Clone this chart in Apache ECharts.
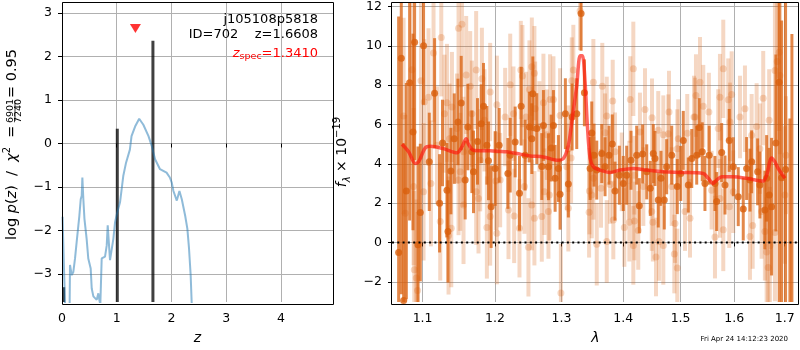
<!DOCTYPE html>
<html>
<head>
<meta charset="utf-8">
<script src="https://cdn.jsdelivr.net/npm/echarts@6/dist/echarts.min.js"></script>
<style>
  html, body { margin: 0; padding: 0; background: #fff; }
  #chart { width: 800px; height: 350px; }
</style>
</head>
<body>
<div id="chart"></div>
<script>
// ---- redshift probability panel ----
const zRange = [0, 4.95];
const pzRange = [-3.64, 3.25];
const zTicks = [0, 1, 2, 3, 4];
const pzTicks = [-3, -2, -1, 0, 1, 2, 3];

// log p(z) curve
const pzZ = [0.01, 0.024, 0.073, 0.134, 0.146, 0.177, 0.207, 0.238, 0.268, 0.317, 0.342, 0.36, 0.372, 0.39, 0.41,
  0.45, 0.48, 0.512, 0.524, 0.543, 0.573, 0.634, 0.664, 0.682, 0.70, 0.725, 0.786, 0.817, 0.835, 0.859, 0.877,
  0.908, 0.938, 0.969, 1.01, 1.06, 1.12, 1.17, 1.24, 1.27, 1.335, 1.41, 1.486, 1.58, 1.64, 1.70, 1.79, 1.91, 1.97,
  2.005, 2.035, 2.066, 2.097, 2.145, 2.188, 2.25, 2.29, 2.32, 2.35, 2.37, 2.40];
const pzLog = [-1.68, -1.69, -4.5, -4.5, -2.79, -3.02, -2.95, -2.64, -2.26, -1.66, -1.28, -1.2, -0.78, -1.28, -1.73,
  -2.19, -2.64, -2.64, -2.87, -3.33, -3.51, -3.59, -3.44, -3.59, -3.7, -2.64, -2.6, -2.34, -1.88, -2.34, -2.68,
  -2.72, -2.19, -1.81, -1.58, -1.35, -0.74, -0.44, -0.14, 0.17, 0.39, 0.57, 0.43, 0.17, -0.06, -0.36, -0.59, -0.67, -0.78,
  -0.9, -1.09, -1.05, -1.31, -1.09, -1.28, -1.66, -1.96, -2.41, -3.02, -3.7, -5.0];

const zBest = 1.6608;
const zSpec = 1.3410;
const zSpecMarkY = 2.64;
const objName = 'j105108p5818';
const objId = 702;

// fit peaks drawn as vertical spikes
const spikeZ = [0.03, 1.01, zBest];
const spikeTop = [-3.3, 0.34, 2.36];

// ---- spectrum panel ----
const lamRange = [1.0603, 1.7295];
const fluxRange = [-3.03, 12.23];
const lamTicks = [1.1, 1.2, 1.3, 1.4, 1.5, 1.6, 1.7];
const fluxTicks = [-2, 0, 2, 4, 6, 8, 10, 12];

// [lambda, flux, error] for the primary grism spectrum
const specMain = [
  [1.0688, -0.51, 12], [1.0722, 9.37, 12], [1.0752, -2.96, 8], [1.0787, 2.61, 5.5], [1.0830, 8.12, 7],
  [1.0874, 5.62, 5], [1.0895, 10.18, 6], [1.0939, -0.12, 5], [1.0970, 1.52, 3.5], [1.1013, 10.0, 3],
  [1.1089, 4.1, 2.5], [1.1160, 7.59, 2.8], [1.1227, 1.99, 2.5], [1.1267, 5.06, 2.2], [1.1327, 2.66, 2.4],
  [1.1341, 0.56, 2.6], [1.1381, 3.63, 2.2], [1.1427, 5.28, 2.3], [1.1478, 6.13, 2.2], [1.1523, 7.09, 2.4],
  [1.1578, 3.17, 2.0], [1.1616, 5.87, 2.2], [1.1672, 4.61, 2.1], [1.1694, 3.59, 2.1], [1.1751, 5.14, 2.2],
  [1.1803, 6.04, 2.0], [1.1836, 6.93, 2.2], [1.1884, 4.94, 2.0], [1.1907, 4.15, 2.0], [1.1945, 1.82, 2.1],
  [1.2003, 3.76, 1.9], [1.2061, 4.94, 1.9], [1.2188, 3.51, 1.8], [1.2222, 4.44, 1.9], [1.2295, 5.11, 1.8],
  [1.2359, 2.5, 1.9], [1.2384, 6.93, 2.0], [1.2443, 4.44, 1.8], [1.2508, 5.87, 1.8], [1.2544, 5.28, 1.8],
  [1.2559, 7.56, 1.9], [1.2619, 5.79, 1.8], [1.2695, 3.86, 1.7], [1.2720, 5.95, 1.8], [1.2797, 3.85, 1.7],
  [1.2838, 4.8, 1.7], [1.2874, 5.95, 1.8], [1.2900, 3.26, 1.7], [1.2951, 3.76, 1.7], [1.2977, 2.45, 1.8],
  [1.3060, 6.55, 1.8], [1.3107, 2.97, 1.7], [1.3166, 6.38, 1.7], [1.3240, 6.55, 1.8], [1.3309, 11.65, 1.9],
  [1.3362, 7.61, 1.7], [1.3454, 3.76, 1.6], [1.3481, 5.57, 1.6], [1.3518, 4.44, 1.6], [1.3562, 3.68, 1.5],
  [1.3644, 4.52, 1.5], [1.3698, 3.85, 1.5], [1.3764, 4.44, 1.5], [1.3818, 5.01, 1.5], [1.3863, 2.61, 1.5],
  [1.3935, 3.42, 1.5], [1.4002, 3.0, 1.4], [1.4059, 3.42, 1.5], [1.4132, 4.18, 1.5], [1.4229, 4.44, 1.5],
  [1.4274, 1.87, 1.4], [1.4332, 4.5, 1.5], [1.4402, 3.59, 1.4], [1.4464, 2.75, 1.4], [1.4516, 4.52, 1.5],
  [1.4545, 4.27, 1.4], [1.4603, 2.16, 1.4], [1.4651, 3.26, 1.4], [1.4709, 2.16, 1.5], [1.4751, 3.85, 1.4],
  [1.4841, 4.44, 1.5], [1.4941, 2.84, 1.4], [1.5003, 3.51, 1.4], [1.5049, 5.19, 1.5], [1.5140, 2.92, 1.4],
  [1.5203, 4.27, 1.5], [1.5294, 4.44, 1.5], [1.5341, 5.84, 1.5], [1.5396, 4.61, 1.5], [1.5446, 3.0, 1.4],
  [1.5525, 4.44, 1.5], [1.5633, 3.0, 1.4], [1.5665, 2.08, 1.5], [1.5760, 4.57, 1.5], [1.5823, 2.92, 1.5],
  [1.5904, 5.19, 1.6], [1.5981, 3.85, 1.5], [1.6077, 2.33, 1.5], [1.6174, 1.70, 1.6], [1.6240, 3.76, 1.6],
  [1.6305, 3.17, 1.6], [1.6338, 4.1, 1.6], [1.6456, 3.59, 1.7], [1.6501, 2.92, 1.7], [1.6600, 1.65, 2.0],
  [1.6635, 3.26, 2.2], [1.6686, 2.41, 2.4], [1.6734, 1.82, 3.5], [1.6821, 5.06, 4.5], [1.6888, 8.15, 12],
  [1.6937, 3.29, 8], [1.7018, 3.71, 12], [1.7107, -3.6, 9.9], [1.7148, -3.6, 14.2]
];

// [lambda, flux, error] for the secondary (faint) spectra
const specOther = [
  [1.0752, 6.43, 5], [1.0774, 1.48, 5], [1.0861, 8.79, 4.5], [1.0882, 2.84, 4], [1.0891, -1.39, 4],
  [1.0917, -1.81, 4], [1.0934, -2.45, 4], [1.0979, 8.23, 4], [1.1013, 2.58, 3.5], [1.1022, 7.14, 3.2],
  [1.1079, 7.39, 3.5], [1.1111, 3.0, 3.2], [1.1146, 9.64, 3.5], [1.1192, 4.94, 3], [1.1236, 1.06, 3],
  [1.1250, 10.43, 3], [1.1294, 6.55, 3], [1.1327, 7.1, 3], [1.1349, 0.35, 3], [1.1362, 5.28, 2.8],
  [1.1386, 0.72, 3], [1.1395, 6.89, 2.8], [1.1464, 5.79, 2.8], [1.1486, 10.89, 3], [1.1486, 3.17, 2.8],
  [1.1509, 3.59, 3], [1.1533, 11.1, 3.2], [1.1555, 4.61, 2.8], [1.1555, 1.9, 3], [1.1592, 8.52, 3],
  [1.1648, 7.95, 2.8], [1.1672, 6.55, 2.7], [1.1732, 8.77, 3], [1.1732, 2.58, 2.7], [1.1765, 2.24, 2.8],
  [1.1789, 4.18, 2.6], [1.1813, 8.32, 2.6], [1.1850, 6.21, 2.6], [1.1884, 0.76, 2.6], [1.1931, 7.65, 2.5],
  [1.1931, 1.32, 2.5], [1.2013, 3.13, 2.5], [1.2028, 7.0, 2.5], [1.2028, 0.47, 2.6], [1.2075, 3.17, 2.4],
  [1.2148, 6.38, 2.5], [1.2197, 1.65, 2.5], [1.2222, 8.02, 2.6], [1.2270, 6.55, 2.4], [1.2280, 1.35, 2.4],
  [1.2359, 0.72, 2.5], [1.2379, 8.77, 2.5], [1.2403, 8.46, 2.6], [1.2433, 2.84, 2.4], [1.2458, 6.38, 2.3],
  [1.2493, -0.25, 2.5], [1.2508, 7.78, 2.5], [1.2544, 8.94, 2.5], [1.2544, 1.9, 2.3], [1.2583, 8.61, 2.4],
  [1.2583, 1.23, 2.4], [1.2594, 6.8, 2.4], [1.2659, 5.9, 2.3], [1.2695, 1.32, 2.3], [1.2720, 7.1, 2.5],
  [1.2735, 2.58, 2.2], [1.2772, 5.48, 2.3], [1.2797, 1.57, 2.4], [1.2812, 2.41, 2.3], [1.2822, 7.27, 2.3],
  [1.2874, 7.27, 2.2], [1.2977, 6.46, 2.4], [1.2990, -2.57, 2.5], [1.3082, 3.85, 2.2], [1.3107, 4.77, 2.2],
  [1.3107, 1.74, 2.2], [1.3150, 4.3, 2.3], [1.3161, 8.23, 2.2], [1.3186, 8.77, 2.3], [1.3293, 11.78, 2.0],
  [1.3438, 1.53, 2.3], [1.3443, 2.61, 2.2], [1.3481, 2.41, 2.2], [1.3507, 8.15, 2.2], [1.3507, 3.26, 2.1],
  [1.3562, -0.09, 2.1], [1.3632, 2.75, 2.0], [1.3653, 7.95, 2.2], [1.3698, 5.58, 2.0], [1.3726, 6.43, 2.0],
  [1.3726, 0.05, 2.1], [1.3781, 2.95, 2.0], [1.3825, 7.19, 2.1], [1.3835, 1.14, 2.0], [1.3863, 4.61, 2.0],
  [1.3976, 3.59, 2.0], [1.4019, 0.76, 2.0], [1.4104, 3.17, 2.0], [1.4104, 1.03, 2.0], [1.4120, 7.27, 2.2],
  [1.4172, 8.83, 2.4], [1.4172, -0.15, 2.0], [1.4189, 3.42, 2.0], [1.4189, 1.09, 2.0], [1.4256, 0.61, 2.0],
  [1.4285, 5.62, 2.0], [1.4343, 2.84, 2.0], [1.4372, 6.76, 2.1], [1.4489, 1.57, 2.0], [1.4494, 6.34, 2.0],
  [1.4508, 1.03, 2.0], [1.4563, -0.74, 2.0], [1.4603, 5.7, 2.0], [1.4615, 0.05, 2.0], [1.4692, 5.48, 2.0],
  [1.4692, -0.15, 2.0], [1.4780, 5.53, 2.0], [1.4793, 6.63, 2.1], [1.4841, 2.84, 2.0], [1.4888, -0.59, 2.0],
  [1.4900, 0.96, 2.0], [1.4941, 4.77, 2.0], [1.4941, -1.3, 2.0], [1.4959, 5.28, 2.0], [1.5080, 1.57, 2.0],
  [1.5121, 5.55, 2.0], [1.5171, 1.23, 2.0], [1.5244, 6.38, 2.1], [1.5262, 6.38, 2.0], [1.5280, 7.47, 2.1],
  [1.5354, 8.15, 2.3], [1.5415, 6.93, 2.1], [1.5519, 6.63, 2.0], [1.5570, 2.66, 2.0], [1.5633, 0.27, 2.1],
  [1.5695, 5.79, 2.0], [1.5727, 7.39, 2.2], [1.5727, 2.24, 2.0], [1.5790, 8.83, 2.5], [1.5790, 0.64, 2.1],
  [1.5885, 7.26, 2.1], [1.5904, 1.82, 2.1], [1.5918, 6.13, 2.0], [1.5950, 7.52, 2.2], [1.5981, 2.58, 2.1],
  [1.6110, 6.38, 2.1], [1.6207, 6.8, 2.2], [1.6305, 0.3, 2.2], [1.6338, 5.45, 2.1], [1.6358, 0.86, 2.2],
  [1.6436, 5.9, 2.2], [1.6501, 4.77, 2.3], [1.6535, 1.57, 2.4], [1.6567, 7.34, 2.4], [1.6600, 0.56, 2.5],
  [1.6635, -0.49, 2.8], [1.6666, -1.27, 3], [1.6686, 6.21, 2.6], [1.6700, -0.17, 3], [1.6802, 0.51, 3.5],
  [1.6802, 8.74, 3.5], [1.6848, 9.2, 4], [1.6888, 9.67, 4], [1.6903, 8.49, 4], [1.7005, 2.41, 3.5],
  [1.7025, 4.44, 3]
];

// best-fit template spectrum
const modelLam = [1.0731, 1.0817, 1.0904, 1.0947, 1.1036, 1.1102, 1.1281, 1.1464, 1.1533, 1.1592, 1.1625, 1.1694,
  1.1931, 1.2173, 1.2320, 1.2518, 1.2720, 1.2926, 1.3029, 1.3107, 1.3161, 1.3240, 1.3293, 1.3330, 1.3373, 1.3410,
  1.3454, 1.3507, 1.3616, 1.3781, 1.3947, 1.4172, 1.4402, 1.4692, 1.4990, 1.5415, 1.5508, 1.5601, 1.5665, 1.5760,
  1.5981, 1.6240, 1.6567, 1.6635, 1.6735, 1.6802, 1.6868, 1.7005];
const modelFlux = [4.99, 4.61, 4.02, 4.1, 4.81, 4.89, 4.77, 4.56, 4.86, 5.28, 4.99, 4.69,
  4.66, 4.61, 4.52, 4.4, 4.35, 4.18, 4.27, 4.94, 6.13, 7.98, 9.5, 9.5, 8.15, 5.95,
  4.27, 3.85, 3.68, 3.56, 3.68, 3.76, 3.68, 3.59, 3.56, 3.51, 3.26, 3.0, 3.17, 3.34,
  3.34, 3.26, 3.12, 3.42, 4.3, 4.1, 3.76, 3.26];

const stamp = 'Fri Apr 24 14:12:23 2020';

// ---- drawing ----
const FONT = 'DejaVu Sans';
const TICK_FS = 12.5;
const GRID_COLOR = '#b0b0b0';
const ORANGE = '217,96,14';
const L = [62, 2, 271, 302];   // left panel box
const R = [392, 2, 407, 302];  // right panel box

const fmtNum = v => (v < 0 ? '\u2212' + Math.abs(v) : String(v));

function errorBarSeries(rows, color, width, xIdx) {
  return {
    type: 'custom', xAxisIndex: xIdx, yAxisIndex: xIdx, clip: true, silent: true,
    data: rows.map(r => [Math.log(r[0]), r[1], r[2]]),
    encode: { x: 0, y: 1 },
    renderItem: (params, api) => {
      const x = api.value(0), y = api.value(1), e = api.value(2);
      const a = api.coord([x, y - e]);
      const b = api.coord([x, y + e]);
      return { type: 'line', shape: { x1: a[0], y1: a[1], x2: b[0], y2: b[1] },
        style: { stroke: color, lineWidth: width } };
    }
  };
}

function axisCommon(ticks, fmt, margin) {
  return {
    axisLine: { show: false },
    axisTick: { show: true, length: 4, lineStyle: { color: '#000', width: 1 }, customValues: ticks },
    axisLabel: { customValues: ticks, color: '#000', fontSize: TICK_FS, fontFamily: FONT, margin: margin, formatter: fmt },
    splitLine: { show: true, lineStyle: { color: GRID_COLOR, width: 1 } }
  };
}

const lnLamTicks = lamTicks.map(Math.log);

const option = {
  animation: false,
  textStyle: { fontFamily: FONT },
  grid: [
    { left: L[0], top: L[1], width: L[2], height: L[3] },
    { left: R[0], top: R[1], width: R[2], height: R[3] }
  ],
  xAxis: [
    Object.assign({ type: 'value', gridIndex: 0, min: zRange[0], max: zRange[1],
      name: 'z', nameLocation: 'middle', nameGap: 29,
      nameTextStyle: { fontStyle: 'italic', fontSize: 14, color: '#000', fontFamily: FONT } },
      axisCommon(zTicks, v => fmtNum(v), 10)),
    Object.assign({ type: 'value', gridIndex: 1, min: Math.log(lamRange[0]), max: Math.log(lamRange[1]),
      name: 'λ', nameLocation: 'middle', nameGap: 29,
      nameTextStyle: { fontStyle: 'italic', fontSize: 14, color: '#000', fontFamily: FONT } },
      axisCommon(lnLamTicks, v => Math.exp(v).toFixed(1), 10))
  ],
  yAxis: [
    Object.assign({ type: 'value', gridIndex: 0, min: pzRange[0], max: pzRange[1] },
      axisCommon(pzTicks, v => fmtNum(v), 10)),
    Object.assign({ type: 'value', gridIndex: 1, min: fluxRange[0], max: fluxRange[1],
      name: '{i|f}{sub|λ}{n| × 10}{sup|\u221219}', nameLocation: 'middle', nameGap: 36, nameRotate: 90,
      nameTextStyle: { color: '#000', fontFamily: FONT, rich: {
        i: { fontSize: 14, fontStyle: 'italic', fontFamily: FONT, color: '#000', lineHeight: 20 },
        sub: { fontSize: 10, fontStyle: 'italic', fontFamily: FONT, color: '#000', verticalAlign: 'bottom', lineHeight: 14 },
        n: { fontSize: 14, fontFamily: FONT, color: '#000', lineHeight: 20 },
        sup: { fontSize: 10, fontFamily: FONT, color: '#000', verticalAlign: 'top', lineHeight: 12 }
      } } },
      axisCommon(fluxTicks, v => fmtNum(v), 10))
  ],
  series: [
    {
      type: 'line', xAxisIndex: 0, yAxisIndex: 0, showSymbol: false, silent: true, clip: true,
      data: pzZ.map((z, i) => [z, pzLog[i]]),
      lineStyle: { color: '#1f77b4', opacity: 0.5, width: 2 }
    },
    {
      type: 'custom', xAxisIndex: 0, yAxisIndex: 0, clip: true, silent: true,
      data: spikeZ.map((z, i) => [z, spikeTop[i]]),
      encode: { x: 0, y: 1 },
      renderItem: (params, api) => {
        const top = api.coord([api.value(0), api.value(1)]);
        const bot = api.coord([api.value(0), pzRange[0]]);
        return { type: 'line', shape: { x1: top[0], y1: top[1], x2: bot[0], y2: bot[1] },
          style: { stroke: 'rgba(0,0,0,0.75)', lineWidth: 3 } };
      }
    },
    {
      type: 'scatter', xAxisIndex: 0, yAxisIndex: 0, silent: true,
      data: [[zSpec, zSpecMarkY]], symbol: 'triangle', symbolRotate: 180, symbolSize: [11, 9],
      itemStyle: { color: '#ff0000' }
    },
    errorBarSeries(specOther, 'rgba(' + ORANGE + ',0.25)', 4, 1),
    {
      type: 'scatter', xAxisIndex: 1, yAxisIndex: 1, silent: true, symbolSize: 7,
      data: specOther.map(r => [Math.log(r[0]), r[1]]),
      itemStyle: { color: 'rgba(' + ORANGE + ',0.3)' }
    },
    errorBarSeries(specMain, 'rgba(' + ORANGE + ',0.75)', 3, 1),
    {
      type: 'scatter', xAxisIndex: 1, yAxisIndex: 1, silent: true, symbolSize: 7,
      data: specMain.map(r => [Math.log(r[0]), r[1]]),
      itemStyle: { color: 'rgb(' + ORANGE + ')' }
    },
    {
      type: 'line', xAxisIndex: 1, yAxisIndex: 1, showSymbol: false, silent: true, smooth: 0.3,
      data: modelLam.map((l, i) => [Math.log(l), modelFlux[i]]),
      lineStyle: { color: 'rgba(255,20,10,0.65)', width: 3.5 }
    },
    {
      type: 'line', xAxisIndex: 1, yAxisIndex: 1, showSymbol: false, silent: true,
      data: [[Math.log(lamRange[0]), 0], [Math.log(lamRange[1]), 0]],
      lineStyle: { color: '#000', width: 2, type: [2, 3.3] }
    }
  ],
  graphic: [
    // panel frames
    { type: 'rect', z: 100, silent: true, shape: { x: L[0] + 0.5, y: L[1] + 0.5, width: L[2], height: L[3] },
      style: { fill: 'none', stroke: '#000', lineWidth: 1 } },
    { type: 'rect', z: 100, silent: true, shape: { x: R[0] - 0.5, y: R[1] + 0.5, width: R[2], height: R[3] },
      style: { fill: 'none', stroke: '#000', lineWidth: 1 } },
    // object annotations
    { type: 'text', z: 100, x: 318, y: 20, style: { text: objName, font: '13px ' + FONT, fill: '#000',
      align: 'right', textAlign: 'right', verticalAlign: 'middle', textVerticalAlign: 'middle' } },
    { type: 'text', z: 100, x: 318, y: 35, style: { text: 'ID=' + objId + '    z=' + zBest.toFixed(4),
      font: '13px ' + FONT, fill: '#000', align: 'right', textAlign: 'right', verticalAlign: 'middle', textVerticalAlign: 'middle' } },
    { type: 'text', z: 100, x: 318, y: 54, style: {
      text: '{i|z}{sub|spec}{n|=' + zSpec.toFixed(4) + '}',
      align: 'right', textAlign: 'right', verticalAlign: 'middle', textVerticalAlign: 'middle',
      rich: {
        i: { fontSize: 13, fontStyle: 'italic', fontFamily: FONT, fill: '#ff0000', color: '#ff0000', lineHeight: 16 },
        sub: { fontSize: 9.5, fontFamily: FONT, fill: '#ff0000', color: '#ff0000', verticalAlign: 'bottom', lineHeight: 12 },
        n: { fontSize: 13, fontFamily: FONT, fill: '#ff0000', color: '#ff0000', lineHeight: 16 }
      } } },
    // left axis title
    { type: 'text', z: 100, x: 12, y: 240, rotation: Math.PI / 2, style: {
      text: '{n|log }{i|p}{n|(}{i|z}{n|)  /  }{i|χ}{sup|2}{n|  =}',
      align: 'left', textAlign: 'left', verticalAlign: 'middle', textVerticalAlign: 'middle',
      rich: {
        n: { fontSize: 14.5, fontFamily: FONT, fill: '#000', color: '#000', lineHeight: 20 },
        i: { fontSize: 14.5, fontStyle: 'italic', fontFamily: FONT, fill: '#000', color: '#000', lineHeight: 20 },
        sup: { fontSize: 10, fontFamily: FONT, fill: '#000', color: '#000', verticalAlign: 'top', lineHeight: 12 }
      } } },
    { type: 'text', z: 100, x: 11, y: 111, rotation: Math.PI / 2, style: { text: '6901', font: '9.5px ' + FONT,
      fill: '#000', align: 'center', textAlign: 'center', verticalAlign: 'middle', textVerticalAlign: 'middle' } },
    { type: 'text', z: 100, x: 19, y: 111, rotation: Math.PI / 2, style: { text: '7240', font: '9.5px ' + FONT,
      fill: '#000', align: 'center', textAlign: 'center', verticalAlign: 'middle', textVerticalAlign: 'middle' } },
    { type: 'line', z: 100, silent: true, shape: { x1: 15, y1: 101, x2: 15, y2: 121 }, style: { stroke: '#000', lineWidth: 0.8 } },
    { type: 'text', z: 100, x: 12, y: 98, rotation: Math.PI / 2, style: { text: '= 0.95', font: '14.5px ' + FONT,
      fill: '#000', align: 'left', textAlign: 'left', verticalAlign: 'middle', textVerticalAlign: 'middle' } },
    // timestamp
    { type: 'text', z: 100, x: 788, y: 339, style: { text: stamp, font: '7px ' + FONT, fill: '#000',
      align: 'right', textAlign: 'right', verticalAlign: 'middle', textVerticalAlign: 'middle' } }
  ]
};

const chart = echarts.init(document.getElementById('chart'), null, { renderer: 'canvas' });
chart.setOption(option);
</script>
</body>
</html>
